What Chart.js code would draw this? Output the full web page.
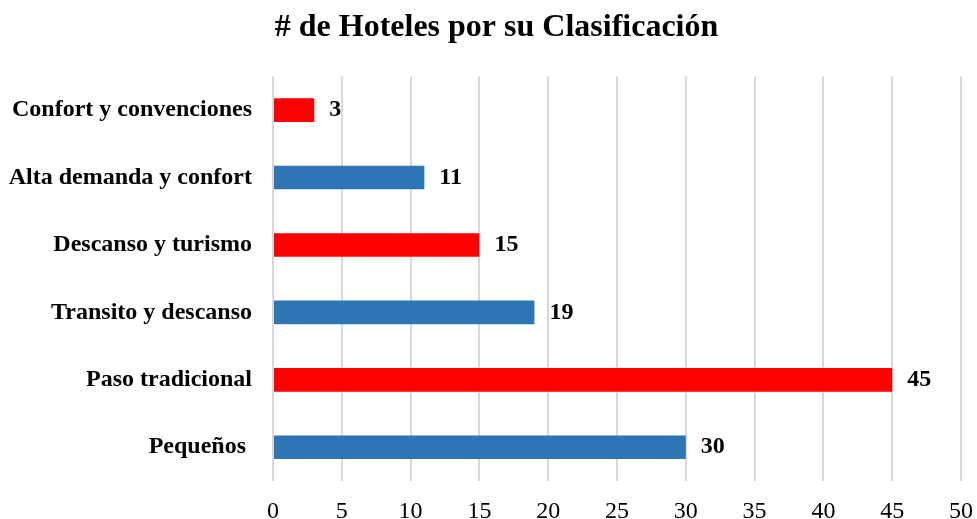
<!DOCTYPE html>
<html>
<head>
<meta charset="utf-8">
<script src="https://cdn.jsdelivr.net/npm/chart.js@4/dist/chart.umd.min.js"></script>
<style>
html,body{margin:0;padding:0;background:#fff;}
#wrap{width:977px;height:519px;position:relative;}
</style>
</head>
<body>
<div id="wrap"><canvas id="c" width="977" height="519"></canvas></div>
<script>
const categories = ["Confort y convenciones", "Alta demanda y confort", "Descanso y turismo", "Transito y descanso", "Paso tradicional", "Pequeños "];
const values = [3, 11, 15, 19, 45, 30];
const barColors = ["#FF0000", "#2E75B6", "#FF0000", "#2E75B6", "#FF0000", "#2E75B6"];
const titleText = "# de Hoteles por su Clasificación";
const xMin = 0, xMax = 50, xStep = 5;

const serif = "'Liberation Serif', 'Times New Roman', serif";

const valueLabels = {
  id: 'valueLabels',
  afterDatasetsDraw(chart) {
    const ctx = chart.ctx;
    const meta = chart.getDatasetMeta(0);
    ctx.save();
    ctx.font = "bold 24px " + serif;
    ctx.fillStyle = "#000";
    ctx.textBaseline = "middle";
    ctx.textAlign = "left";
    meta.data.forEach((bar, i) => {
      ctx.fillText(String(values[i]), bar.x + 15, bar.y);
    });
    ctx.restore();
  }
};

new Chart(document.getElementById('c'), {
  type: 'bar',
  data: {
    labels: categories,
    datasets: [{
      data: values,
      backgroundColor: barColors,
      borderWidth: 0,
      categoryPercentage: 1,
      barPercentage: 0.35
    }]
  },
  options: {
    indexAxis: 'y',
    responsive: false,
    animation: false,
    devicePixelRatio: 1,
    layout: { padding: { left: 16, right: 0, top: 0, bottom: 0 } },
    plugins: {
      legend: { display: false },
      tooltip: { enabled: false },
      title: {
        display: true,
        text: titleText,
        color: "#000",
        font: { family: serif, size: 32, weight: 'bold' },
        padding: { top: 9, bottom: 29 }
      }
    },
    scales: {
      x: {
        min: xMin, max: xMax,
        afterFit(scale) { scale.height = 38; scale.paddingRight = 16; },
        ticks: { stepSize: xStep, color: "#000", font: { family: serif, size: 24 }, padding: 16 },
        grid: { color: "#D9D9D9", lineWidth: 2, drawTicks: false },
        border: { display: false }
      },
      y: {
        afterFit(scale) {
          scale.width = 257;
          scale._computeLabelArea = function () { return undefined; };
        },
        ticks: { color: "#000", font: { family: serif, size: 24, weight: 'bold' }, padding: 21 },
        grid: { display: false, drawTicks: false },
        border: { display: false }
      }
    }
  },
  plugins: [valueLabels]
});
</script>
</body>
</html>
